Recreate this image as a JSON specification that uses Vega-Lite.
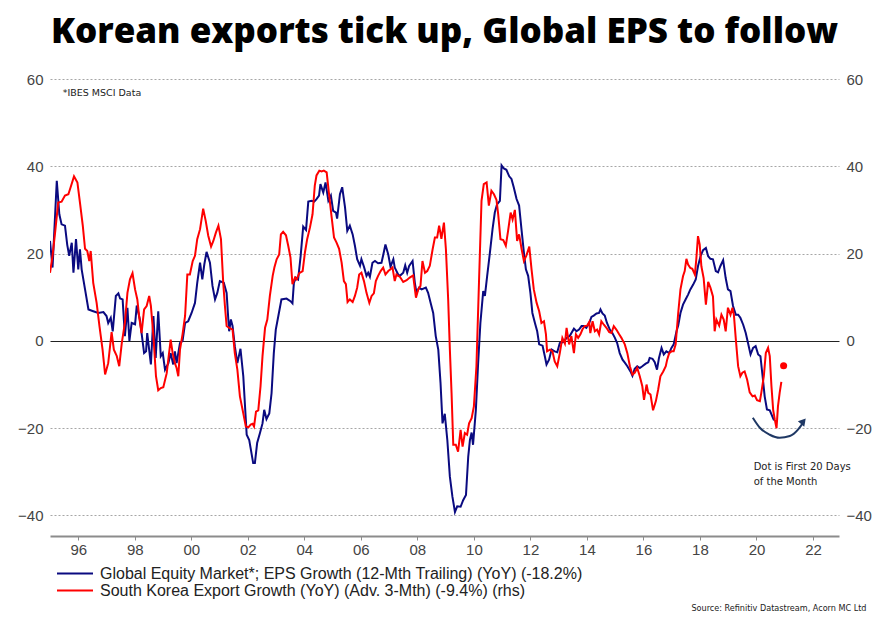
{
  "$schema": "https://vega.github.io/schema/vega-lite/v6.json",
  "autosize": {"type": "none"},
  "width": 789,
  "height": 457,
  "padding": {"left": 50, "top": 79, "right": 54, "bottom": 86},
  "background": "white",
  "title": {
    "text": "Korean exports tick up, Global EPS to follow",
    "font": "Open Sans",
    "fontWeight": 800,
    "fontSize": 35,
    "color": "#000000",
    "anchor": "middle",
    "frame": "group",
    "baseline": "bottom",
    "offset": 30,
    "dy": 43
  },
  "config": {
    "view": {"stroke": null},
    "axis": {"labelFont": "Liberation Sans", "labelFontSize": 15, "labelColor": "#444444"}
  },
  "datasets": {
    "eps": [
      {"t":1995.00,"v":22.9},{"t":1995.09,"v":16.8},{"t":1995.24,"v":36.7},{"t":1995.33,"v":29},{"t":1995.41,"v":26.7},{"t":1995.53,"v":26.4},{"t":1995.61,"v":22},{"t":1995.68,"v":19.5},{"t":1995.77,"v":22.5},{"t":1995.83,"v":15.6},{"t":1995.92,"v":23.3},{"t":1996.00,"v":16.4},{"t":1996.06,"v":21},{"t":1996.12,"v":16.4},{"t":1996.24,"v":11.8},{"t":1996.36,"v":7.2},{"t":1996.53,"v":6.8},{"t":1996.71,"v":6.4},{"t":1996.89,"v":6.6},{"t":1997.00,"v":5.7},{"t":1997.06,"v":4.1},{"t":1997.15,"v":5.3},{"t":1997.22,"v":2.2},{"t":1997.33,"v":10.3},{"t":1997.42,"v":10.9},{"t":1997.48,"v":9.7},{"t":1997.57,"v":9.5},{"t":1997.65,"v":1.1},{"t":1997.74,"v":7.6},{"t":1997.81,"v":0},{"t":1997.89,"v":4.1},{"t":1998.01,"v":3.8},{"t":1998.07,"v":8.1},{"t":1998.18,"v":4.9},{"t":1998.33,"v":-2.8},{"t":1998.40,"v":-2.4},{"t":1998.44,"v":1.8},{"t":1998.57,"v":-5.4},{"t":1998.66,"v":5.7},{"t":1998.74,"v":-3.9},{"t":1998.83,"v":6.8},{"t":1998.92,"v":-3.5},{"t":1998.99,"v":-2.8},{"t":1999.07,"v":-6.6},{"t":1999.19,"v":-5.1},{"t":1999.27,"v":-2.8},{"t":1999.36,"v":-5.4},{"t":1999.42,"v":-2.4},{"t":1999.48,"v":-5.1},{"t":1999.60,"v":-0.5},{"t":1999.69,"v":0},{"t":1999.78,"v":4.1},{"t":1999.89,"v":4.5},{"t":2000.01,"v":6.4},{"t":2000.13,"v":8.7},{"t":2000.21,"v":13.3},{"t":2000.31,"v":17.9},{"t":2000.39,"v":14.1},{"t":2000.46,"v":17.5},{"t":2000.54,"v":20.4},{"t":2000.66,"v":17.9},{"t":2000.75,"v":12.6},{"t":2000.84,"v":9.5},{"t":2000.92,"v":11},
      {"t":2001.01,"v":13.7},{"t":2001.15,"v":13.3},{"t":2001.25,"v":11},{"t":2001.31,"v":4.9},{"t":2001.34,"v":2.2},{"t":2001.40,"v":4.9},{"t":2001.46,"v":3.4},{"t":2001.54,"v":-1.2},{"t":2001.63,"v":-5.1},{"t":2001.74,"v":-1.8},{"t":2001.84,"v":-8.1},{"t":2001.96,"v":-21.5},{"t":2002.05,"v":-22.7},{"t":2002.19,"v":-28},{"t":2002.25,"v":-28},{"t":2002.33,"v":-23.4},{"t":2002.43,"v":-21.1},{"t":2002.52,"v":-18.9},{"t":2002.58,"v":-15.8},{"t":2002.66,"v":-17.9},{"t":2002.76,"v":-16.6},{"t":2002.84,"v":-12},{"t":2002.92,"v":-2.8},{"t":2002.99,"v":2.6},{"t":2003.08,"v":5.7},{"t":2003.19,"v":9.5},{"t":2003.37,"v":9.7},{"t":2003.51,"v":9.1},{"t":2003.58,"v":8.6},{"t":2003.63,"v":13.3},{"t":2003.70,"v":14.5},{"t":2003.78,"v":14.1},{"t":2003.87,"v":19.5},{"t":2003.96,"v":26.2},{"t":2004.06,"v":25.4},{"t":2004.14,"v":31.9},{"t":2004.26,"v":32.1},{"t":2004.35,"v":31.9},{"t":2004.43,"v":32.5},{"t":2004.52,"v":33.3},{"t":2004.57,"v":35.9},{"t":2004.67,"v":34},{"t":2004.75,"v":36.3},{"t":2004.85,"v":32.1},{"t":2004.94,"v":33.3},{"t":2005.02,"v":29.8},{"t":2005.12,"v":29.4},{"t":2005.16,"v":28},{"t":2005.26,"v":33.6},{"t":2005.34,"v":35.2},{"t":2005.44,"v":30.6},{"t":2005.52,"v":25.2},{"t":2005.61,"v":26.4},{"t":2005.71,"v":24.4},{"t":2005.79,"v":21.8},{"t":2005.87,"v":18.7},{"t":2005.97,"v":17.2},{"t":2006.02,"v":18.7},{"t":2006.11,"v":17},{"t":2006.20,"v":14.9},{"t":2006.26,"v":15.6},{"t":2006.32,"v":14.7},{"t":2006.41,"v":17.9},{"t":2006.50,"v":18.3},{"t":2006.61,"v":17.8},{"t":2006.73,"v":17.9},{"t":2006.79,"v":19.6},{"t":2006.87,"v":22.1},{"t":2006.97,"v":19.8},{"t":2007.05,"v":17},{"t":2007.15,"v":18.7},{"t":2007.20,"v":16.8},{"t":2007.32,"v":15.2},
      {"t":2007.38,"v":14.9},{"t":2007.50,"v":15.6},{"t":2007.57,"v":17.3},{"t":2007.64,"v":15.6},{"t":2007.71,"v":17.2},{"t":2007.83,"v":18.3},{"t":2007.91,"v":13.3},{"t":2007.97,"v":11},{"t":2008.06,"v":12.2},{"t":2008.15,"v":11.8},{"t":2008.30,"v":12.2},{"t":2008.38,"v":11},{"t":2008.47,"v":8.7},{"t":2008.56,"v":6.4},{"t":2008.65,"v":1.1},{"t":2008.74,"v":-2},{"t":2008.82,"v":-9.7},{"t":2008.89,"v":-18.9},{"t":2008.97,"v":-16.7},{"t":2009.06,"v":-22.7},{"t":2009.15,"v":-31.1},{"t":2009.24,"v":-35.7},{"t":2009.33,"v":-39.2},{"t":2009.41,"v":-37.9},{"t":2009.53,"v":-38},{"t":2009.62,"v":-36.5},{"t":2009.72,"v":-35.3},{"t":2009.80,"v":-26.5},{"t":2009.86,"v":-22.7},{"t":2009.92,"v":-21},{"t":2009.97,"v":-23.8},{"t":2010.07,"v":-15.8},{"t":2010.15,"v":-5.1},{"t":2010.23,"v":4.1},{"t":2010.33,"v":11.4},{"t":2010.39,"v":10.3},{"t":2010.47,"v":14.9},{"t":2010.56,"v":19.8},{"t":2010.66,"v":25.6},{"t":2010.74,"v":29.4},{"t":2010.82,"v":31.3},{"t":2010.92,"v":32.1},{"t":2010.98,"v":40.2},{"t":2011.06,"v":39.5},{"t":2011.15,"v":39.2},{"t":2011.25,"v":37.7},{"t":2011.33,"v":37.1},{"t":2011.41,"v":35.2},{"t":2011.51,"v":32.5},{"t":2011.60,"v":31},{"t":2011.69,"v":25.2},{"t":2011.77,"v":20.2},{"t":2011.84,"v":16.4},{"t":2011.92,"v":14.9},{"t":2012.00,"v":11},{"t":2012.07,"v":6.4},{"t":2012.16,"v":4.1},{"t":2012.24,"v":2.2},{"t":2012.31,"v":-0.8},{"t":2012.43,"v":-1.1},{"t":2012.51,"v":-3.5},{"t":2012.57,"v":-5.4},{"t":2012.66,"v":-4.3},{"t":2012.75,"v":-2},{"t":2012.86,"v":-2.4},{"t":2012.95,"v":-2.6},
      {"t":2013.04,"v":-0.5},{"t":2013.16,"v":-0.3},{"t":2013.28,"v":0.7},{"t":2013.39,"v":1.1},{"t":2013.54,"v":2.8},{"t":2013.63,"v":2.2},{"t":2013.72,"v":2.6},{"t":2013.81,"v":3.4},{"t":2013.89,"v":3.4},{"t":2013.98,"v":3},{"t":2014.08,"v":4.1},{"t":2014.16,"v":5.5},{"t":2014.24,"v":5.8},{"t":2014.34,"v":6.3},{"t":2014.43,"v":6.4},{"t":2014.48,"v":7.2},{"t":2014.55,"v":6.3},{"t":2014.63,"v":5.8},{"t":2014.71,"v":4.1},{"t":2014.81,"v":2.6},{"t":2014.90,"v":1.8},{"t":2014.99,"v":0.7},{"t":2015.07,"v":-0.5},{"t":2015.16,"v":-2.8},{"t":2015.26,"v":-4.3},{"t":2015.34,"v":-5},{"t":2015.43,"v":-5.8},{"t":2015.54,"v":-7},{"t":2015.61,"v":-8},{"t":2015.69,"v":-6.4},{"t":2015.78,"v":-5.8},{"t":2015.87,"v":-6.2},{"t":2015.96,"v":-5.8},{"t":2016.08,"v":-5.2},{"t":2016.17,"v":-4.9},{"t":2016.22,"v":-3.9},{"t":2016.32,"v":-4.1},{"t":2016.40,"v":-4.9},{"t":2016.48,"v":-6.6},{"t":2016.55,"v":-3.9},{"t":2016.64,"v":-1.6},{"t":2016.72,"v":-3.1},{"t":2016.81,"v":-2.4},{"t":2016.91,"v":-2.8},{"t":2016.99,"v":-1.6},{"t":2017.07,"v":-0.8},{"t":2017.17,"v":2.2},{"t":2017.23,"v":3.5},{"t":2017.31,"v":6.4},{"t":2017.40,"v":8.3},{"t":2017.50,"v":9.6},{"t":2017.58,"v":10.6},{"t":2017.66,"v":11.8},{"t":2017.76,"v":12.9},{"t":2017.85,"v":14.1},{"t":2017.93,"v":17.1},{"t":2018.02,"v":19.4},{"t":2018.11,"v":20.8},{"t":2018.21,"v":21.3},{"t":2018.29,"v":19.4},{"t":2018.37,"v":18.8},{"t":2018.46,"v":18.7},{"t":2018.56,"v":16},{"t":2018.64,"v":15.7},{"t":2018.72,"v":17.1},{"t":2018.82,"v":18.5},{"t":2018.91,"v":14.4},{"t":2018.99,"v":11.8},{"t":2019.08,"v":11.4},{"t":2019.17,"v":8},{"t":2019.27,"v":6},{"t":2019.35,"v":6},{"t":2019.43,"v":5.3},{"t":2019.53,"v":3.7},{"t":2019.62,"v":1.8},{"t":2019.70,"v":-0.5},{"t":2019.79,"v":-3.1},{"t":2019.88,"v":-1.6},{"t":2019.97,"v":-1.2},{"t":2020.06,"v":-3.1},{"t":2020.14,"v":-3.5},{"t":2020.21,"v":-7.7},{"t":2020.29,"v":-12.7},{"t":2020.37,"v":-15.7},{"t":2020.47,"v":-15.9},{"t":2020.56,"v":-17.3},{"t":2020.62,"v":-18.2}
    ],
    "kor": [
      {"t":1995.00,"v":15.6},{"t":1995.09,"v":19.5},{"t":1995.18,"v":24.8},{"t":1995.29,"v":31.7},{"t":1995.41,"v":31.9},{"t":1995.53,"v":33.3},{"t":1995.65,"v":33.6},{"t":1995.73,"v":35.2},{"t":1995.85,"v":37.7},{"t":1995.97,"v":36.3},{"t":1996.06,"v":31.7},{"t":1996.16,"v":26.4},{"t":1996.24,"v":21.1},{"t":1996.32,"v":20.6},{"t":1996.39,"v":18.3},{"t":1996.44,"v":20.6},{"t":1996.53,"v":13.3},{"t":1996.65,"v":8.7},{"t":1996.75,"v":3.4},{"t":1996.86,"v":-2},{"t":1996.95,"v":-7.7},{"t":1997.06,"v":-5.1},{"t":1997.18,"v":2},{"t":1997.26,"v":-2},{"t":1997.36,"v":-3.4},{"t":1997.45,"v":-5.8},{"t":1997.54,"v":-0.5},{"t":1997.65,"v":4.1},{"t":1997.74,"v":11},{"t":1997.83,"v":14.1},{"t":1997.92,"v":15.5},{"t":1998.01,"v":11.8},{"t":1998.09,"v":9.5},{"t":1998.16,"v":5.3},{"t":1998.24,"v":1.8},{"t":1998.33,"v":7.2},{"t":1998.42,"v":8},{"t":1998.51,"v":10.3},{"t":1998.57,"v":8},{"t":1998.66,"v":1.1},{"t":1998.75,"v":-8.1},{"t":1998.83,"v":-11.3},{"t":1998.92,"v":-10.8},{"t":1999.01,"v":-10.6},{"t":1999.13,"v":-7.4},{"t":1999.27,"v":0.3},{"t":1999.34,"v":-2.8},{"t":1999.42,"v":-5.1},{"t":1999.48,"v":-6.2},{"t":1999.54,"v":-8.1},{"t":1999.60,"v":-2},{"t":1999.69,"v":1.5},{"t":1999.78,"v":5.7},{"t":1999.86,"v":15.2},{"t":1999.95,"v":15.2},{"t":2000.05,"v":18.3},{"t":2000.13,"v":19.5},{"t":2000.21,"v":23.3},{"t":2000.31,"v":25.6},{"t":2000.42,"v":30.3},{"t":2000.51,"v":27.5},{"t":2000.60,"v":24.1},{"t":2000.70,"v":21.6},{"t":2000.78,"v":22.9},{"t":2000.87,"v":24.8},{"t":2000.96,"v":26.4},{"t":2001.05,"v":23.3},{"t":2001.13,"v":13.3},{"t":2001.19,"v":8},{"t":2001.25,"v":3.4},
      {"t":2001.34,"v":3},{"t":2001.46,"v":2.6},{"t":2001.54,"v":-2.8},{"t":2001.63,"v":-6.6},{"t":2001.72,"v":-12.7},{"t":2001.84,"v":-16.6},{"t":2001.93,"v":-19.6},{"t":2002.02,"v":-19.8},{"t":2002.10,"v":-19.2},{"t":2002.17,"v":-19},{"t":2002.22,"v":-19.6},{"t":2002.29,"v":-16.2},{"t":2002.37,"v":-15.9},{"t":2002.45,"v":-10.4},{"t":2002.52,"v":-3.5},{"t":2002.61,"v":3},{"t":2002.69,"v":4.9},{"t":2002.78,"v":10.3},{"t":2002.88,"v":14.9},{"t":2002.94,"v":16.8},{"t":2003.02,"v":18.7},{"t":2003.11,"v":19.8},{"t":2003.17,"v":24.4},{"t":2003.25,"v":25},{"t":2003.35,"v":24.2},{"t":2003.43,"v":21.8},{"t":2003.51,"v":19.1},{"t":2003.58,"v":13},{"t":2003.67,"v":14.5},{"t":2003.73,"v":14.1},{"t":2003.82,"v":15.5},{"t":2003.94,"v":16},{"t":2004.02,"v":20.2},{"t":2004.10,"v":23.3},{"t":2004.20,"v":26},{"t":2004.29,"v":29},{"t":2004.37,"v":35.6},{"t":2004.43,"v":37.9},{"t":2004.53,"v":39},{"t":2004.61,"v":38.8},{"t":2004.69,"v":39},{"t":2004.79,"v":38.6},{"t":2004.88,"v":33.3},{"t":2004.96,"v":28.7},{"t":2005.05,"v":23.7},{"t":2005.14,"v":22.5},{"t":2005.23,"v":21.1},{"t":2005.32,"v":17.9},{"t":2005.40,"v":13.7},{"t":2005.47,"v":13},{"t":2005.53,"v":8.9},{"t":2005.61,"v":9.5},{"t":2005.71,"v":8.9},{"t":2005.79,"v":10.3},{"t":2005.87,"v":12.2},{"t":2005.94,"v":15.2},{"t":2006.02,"v":15.6},{"t":2006.11,"v":13.7},{"t":2006.20,"v":11},{"t":2006.30,"v":8.7},{"t":2006.38,"v":10.3},{"t":2006.46,"v":10.9},{"t":2006.53,"v":13.7},{"t":2006.61,"v":14.9},{"t":2006.70,"v":16},{"t":2006.79,"v":16.8},{"t":2006.87,"v":15.2},{"t":2006.97,"v":16},{"t":2007.05,"v":16.4},{"t":2007.12,"v":16.8},{"t":2007.20,"v":13.7},{"t":2007.26,"v":15.2},{"t":2007.32,"v":14.9},
      {"t":2007.38,"v":14.7},{"t":2007.50,"v":13.5},{"t":2007.62,"v":13.9},{"t":2007.73,"v":14.5},{"t":2007.85,"v":15},{"t":2007.95,"v":9.9},{"t":2008.03,"v":11.8},{"t":2008.11,"v":12.6},{"t":2008.18,"v":18.3},{"t":2008.27,"v":15.6},{"t":2008.35,"v":16},{"t":2008.44,"v":17.2},{"t":2008.54,"v":21},{"t":2008.62,"v":23.7},{"t":2008.70,"v":23.7},{"t":2008.77,"v":26.4},{"t":2008.85,"v":23.4},{"t":2008.94,"v":27.1},{"t":2009.01,"v":21},{"t":2009.09,"v":9.5},{"t":2009.15,"v":-2},{"t":2009.21,"v":-12},{"t":2009.27,"v":-23.8},{"t":2009.36,"v":-23.8},{"t":2009.44,"v":-25.4},{"t":2009.53,"v":-20.4},{"t":2009.60,"v":-24.2},{"t":2009.68,"v":-21.1},{"t":2009.76,"v":-21.5},{"t":2009.83,"v":-18.9},{"t":2009.92,"v":-17.7},{"t":2010.00,"v":-15},{"t":2010.09,"v":-5.8},{"t":2010.18,"v":13.3},{"t":2010.27,"v":32.1},{"t":2010.35,"v":35.9},{"t":2010.45,"v":36.3},{"t":2010.53,"v":31},{"t":2010.62,"v":34.4},{"t":2010.71,"v":33.6},{"t":2010.80,"v":32.3},{"t":2010.86,"v":29},{"t":2010.94,"v":23.3},{"t":2011.04,"v":23.1},{"t":2011.13,"v":21.8},{"t":2011.21,"v":25.2},{"t":2011.30,"v":29.4},{"t":2011.37,"v":27.8},{"t":2011.45,"v":30},{"t":2011.53,"v":22.9},{"t":2011.60,"v":24.4},{"t":2011.69,"v":21},{"t":2011.77,"v":18.3},{"t":2011.86,"v":19.6},{"t":2011.96,"v":21.6},{"t":2012.04,"v":16.4},{"t":2012.12,"v":11.8},{"t":2012.22,"v":8.7},{"t":2012.31,"v":6.8},{"t":2012.39,"v":4.1},{"t":2012.48,"v":4.5},{"t":2012.55,"v":1.5},{"t":2012.59,"v":-2.4},{"t":2012.69,"v":-2},{"t":2012.78,"v":-2.4},{"t":2012.86,"v":-4.7},{"t":2012.95,"v":-5.8},
      {"t":2013.04,"v":-2.8},{"t":2013.13,"v":0.7},{"t":2013.22,"v":-0.6},{"t":2013.28,"v":3},{"t":2013.37,"v":-0.8},{"t":2013.45,"v":1.1},{"t":2013.54,"v":-2.8},{"t":2013.61,"v":1.5},{"t":2013.69,"v":0.7},{"t":2013.77,"v":1.5},{"t":2013.84,"v":2.6},{"t":2013.92,"v":3.4},{"t":2014.01,"v":3.5},{"t":2014.08,"v":4.3},{"t":2014.12,"v":1.8},{"t":2014.20,"v":4.5},{"t":2014.28,"v":2.2},{"t":2014.36,"v":2.6},{"t":2014.43,"v":1.5},{"t":2014.51,"v":4.5},{"t":2014.60,"v":3.7},{"t":2014.69,"v":3},{"t":2014.79,"v":2},{"t":2014.87,"v":1.8},{"t":2014.95,"v":3.4},{"t":2015.04,"v":2.6},{"t":2015.14,"v":1.5},{"t":2015.22,"v":0.7},{"t":2015.34,"v":-0.8},{"t":2015.43,"v":-2.8},{"t":2015.52,"v":-5.8},{"t":2015.61,"v":-7.7},{"t":2015.69,"v":-7.3},{"t":2015.78,"v":-6.2},{"t":2015.87,"v":-8.1},{"t":2015.96,"v":-10.4},{"t":2016.02,"v":-13.5},{"t":2016.11,"v":-10},{"t":2016.17,"v":-11.9},{"t":2016.25,"v":-12.3},{"t":2016.34,"v":-15.9},{"t":2016.44,"v":-13.8},{"t":2016.52,"v":-11.2},{"t":2016.60,"v":-8.1},{"t":2016.70,"v":-7},{"t":2016.79,"v":-5.8},{"t":2016.84,"v":-4.3},{"t":2016.91,"v":-2.8},{"t":2016.99,"v":-2.4},{"t":2017.07,"v":-2.4},{"t":2017.14,"v":-0.8},{"t":2017.23,"v":6.4},{"t":2017.31,"v":11.8},{"t":2017.40,"v":14.8},{"t":2017.46,"v":16},{"t":2017.52,"v":18.8},{"t":2017.58,"v":17.5},{"t":2017.66,"v":16.7},{"t":2017.73,"v":16.5},{"t":2017.82,"v":15.2},{"t":2017.87,"v":18.7},{"t":2017.93,"v":24},{"t":2017.99,"v":22.1},{"t":2018.05,"v":17.1},{"t":2018.13,"v":14.4},{"t":2018.21,"v":8.3},{"t":2018.29,"v":13.5},{"t":2018.37,"v":12.2},{"t":2018.46,"v":10.2},{"t":2018.52,"v":2.2},{"t":2018.58,"v":4.9},{"t":2018.68,"v":3.5},{"t":2018.76,"v":6},{"t":2018.84,"v":4.9},{"t":2018.91,"v":2.2},{"t":2018.99,"v":7.6},{"t":2019.08,"v":6},{"t":2019.15,"v":7.6},{"t":2019.20,"v":6},{"t":2019.27,"v":0.3},{"t":2019.35,"v":-5.8},{"t":2019.43,"v":-8.1},{"t":2019.50,"v":-7.3},{"t":2019.58,"v":-7},{"t":2019.67,"v":-8.9},{"t":2019.76,"v":-11.8},{"t":2019.86,"v":-12.7},{"t":2019.94,"v":-12.5},{"t":2020.02,"v":-13.6},{"t":2020.12,"v":-13.8},{"t":2020.17,"v":-11.9},{"t":2020.26,"v":-8.1},{"t":2020.33,"v":-2.8},{"t":2020.41,"v":-1.6},{"t":2020.47,"v":-3.5},{"t":2020.53,"v":-10.4},{"t":2020.59,"v":-15.8},{"t":2020.65,"v":-18.1},{"t":2020.71,"v":-20},{"t":2020.76,"v":-15},{"t":2020.82,"v":-11.9},{"t":2020.88,"v":-9.4}
    ],
    "dot": [{"t": 2020.96, "v": -5.7}],
    "arc": [
      {"t": 2019.87, "v": -17.6}, {"t": 2020.12, "v": -19.9}, {"t": 2020.47, "v": -21.5}, {"t": 2020.82, "v": -22.2}, {"t": 2021.18, "v": -21.8}, {"t": 2021.46, "v": -20.4}, {"t": 2021.62, "v": -19.0}
    ],
    "arrowhead": [{"t": 2021.66, "v": -18.4}],
    "note1": [{"t": 1995.45, "v": 56.8, "label": "*IBES MSCI Data"}],
    "note2": [{"t": 2019.90, "v": -28.9, "label": "Dot is First 20 Days\nof the Month"}]
  },
  "encoding": {
    "x": {
      "field": "t",
      "type": "quantitative",
      "scale": {"domain": [1995, 2022.92], "nice": false, "zero": false},
      "axis": {
        "values": [1996, 1998, 2000, 2002, 2004, 2006, 2008, 2010, 2012, 2014, 2016, 2018, 2020, 2022],
        "labelExpr": "slice(toString(datum.value), 2)",
        "grid": false,
        "domainColor": "#8c8c8c",
        "domainWidth": 2,
        "tickColor": "#8c8c8c",
        "tickSize": 4,
        "tickWidth": 1,
        "labelPadding": 2,
        "title": "Source: Refinitiv Datastream, Acorn MC Ltd",
        "titleFont": "DejaVu Sans Condensed",
        "titleFontSize": 9,
        "titleFontWeight": "normal",
        "titleColor": "#222222",
        "titleAnchor": "end",
        "titleAlign": "right",
        "titleBaseline": "middle",
        "titleX": 816,
        "titleY": 71
      }
    }
  },
  "layer": [
    {
      "data": {"name": "eps"},
      "mark": {"type": "line", "strokeWidth": 2, "clip": true},
      "encoding": {
        "y": {
          "field": "v",
          "type": "quantitative",
          "scale": {"domain": [-44.7, 60], "nice": false, "zero": false},
          "axis": {
            "orient": "left",
            "values": [-40, -20, 0, 20, 40, 60],
            "title": null,
            "domain": false,
            "ticks": false,
            "labelPadding": 7,
            "grid": true,
            "gridColor": {"condition": {"test": "datum.value === 0", "value": "#222222"}, "value": "#a6a6a6"},
            "gridDash": {"condition": {"test": "datum.value === 0", "value": []}, "value": [2, 2]},
            "gridWidth": 1
          }
        },
        "color": {
          "datum": "Global Equity Market*; EPS Growth (12-Mth Trailing) (YoY) (-18.2%)",
          "type": "nominal",
          "scale": {
            "domain": ["Global Equity Market*; EPS Growth (12-Mth Trailing) (YoY) (-18.2%)", "South Korea Export Growth (YoY) (Adv. 3-Mth) (-9.4%) (rhs)"],
            "range": ["#0a0a80", "#ff0000"]
          },
          "legend": {
            "title": null,
            "orient": "none",
            "legendX": 6,
            "legendY": 486,
            "direction": "vertical",
            "padding": 0,
            "symbolType": "stroke",
            "symbolSize": 1296,
            "symbolStrokeWidth": 2,
            "labelFont": "Liberation Sans",
            "labelFontSize": 16,
            "labelColor": "#222222",
            "labelOffset": 6,
            "clipHeight": 17,
            "rowPadding": 0,
            "labelLimit": 700
          }
        }
      }
    },
    {
      "data": {"name": "kor"},
      "mark": {"type": "line", "strokeWidth": 2, "clip": true},
      "encoding": {
        "y": {
          "field": "v",
          "type": "quantitative",
          "axis": {
            "orient": "right",
            "values": [-40, -20, 0, 20, 40, 60],
            "title": null,
            "domain": false,
            "ticks": false,
            "grid": false,
            "labelPadding": 7
          }
        },
        "color": {"datum": "South Korea Export Growth (YoY) (Adv. 3-Mth) (-9.4%) (rhs)", "type": "nominal"}
      }
    },
    {
      "data": {"name": "dot"},
      "mark": {"type": "point", "filled": true, "size": 50, "color": "#ff0000", "opacity": 1},
      "encoding": {"y": {"field": "v", "type": "quantitative", "axis": null}}
    },
    {
      "data": {"name": "arc"},
      "mark": {"type": "line", "interpolate": "monotone", "strokeWidth": 2, "color": "#1f3864"},
      "encoding": {"y": {"field": "v", "type": "quantitative", "axis": null}}
    },
    {
      "data": {"name": "arrowhead"},
      "mark": {"type": "point", "shape": "triangle-up", "filled": true, "size": 70, "angle": 40, "color": "#1f3864", "opacity": 1},
      "encoding": {"y": {"field": "v", "type": "quantitative", "axis": null}}
    },
    {
      "data": {"name": "note1"},
      "mark": {"type": "text", "align": "left", "baseline": "middle", "font": "DejaVu Sans", "fontSize": 9.5, "color": "#222222"},
      "encoding": {
        "y": {"field": "v", "type": "quantitative", "axis": null},
        "text": {"field": "label"}
      }
    },
    {
      "data": {"name": "note2"},
      "mark": {"type": "text", "align": "left", "baseline": "middle", "font": "DejaVu Sans", "fontSize": 10, "color": "#222222", "lineBreak": "\n", "lineHeight": 15},
      "encoding": {
        "y": {"field": "v", "type": "quantitative", "axis": null},
        "text": {"field": "label"}
      }
    }
  ],
  "resolve": {"axis": {"y": "independent"}}
}
